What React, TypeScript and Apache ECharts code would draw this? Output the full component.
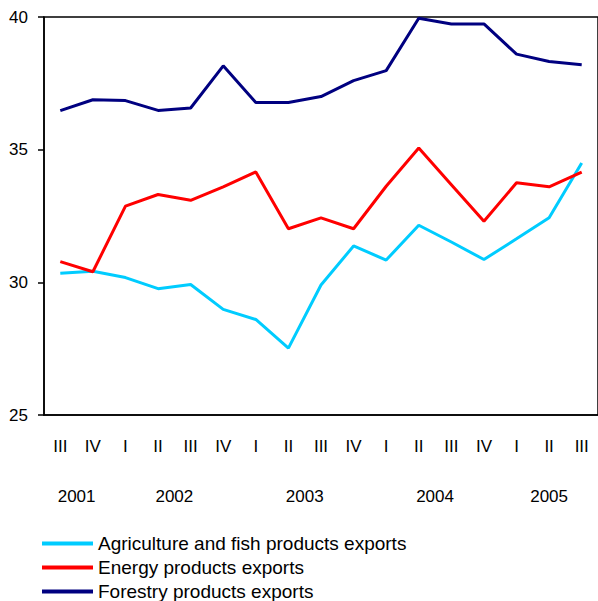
import React, { useEffect, useRef } from "react";
import * as echarts from "echarts";

const quarters = ["III", "IV", "I", "II", "III", "IV", "I", "II", "III", "IV", "I", "II", "III", "IV", "I", "II", "III"];
const yearPositions = [0.5, 3.5, 7.5, 11.5, 15];
const yearLabels = ["2001", "2002", "2003", "2004", "2005"];
const seriesNames = [
  "Agriculture and fish products exports",
  "Energy products exports",
  "Forestry products exports",
];
const agriculture = [30.34, 30.42, 30.18, 29.76, 29.92, 28.98, 28.6, 27.52, 29.9, 31.37, 30.84, 32.15, 31.52, 30.86, 31.64, 32.43, 34.5];
const energy = [30.78, 30.4, 32.87, 33.31, 33.09, 33.6, 34.16, 32.02, 32.43, 32.02, 33.62, 35.06, 33.68, 32.3, 33.75, 33.6, 34.15];
const forestry = [36.47, 36.88, 36.85, 36.48, 36.57, 38.16, 36.78, 36.78, 37.0, 37.6, 37.98, 39.95, 39.74, 39.74, 38.6, 38.32, 38.2];
const colors = ["#00CCFF", "#FF0000", "#000080"];

const FONT = "Liberation Sans, Arial, sans-serif";

export default function App() {
  const ref = useRef<HTMLDivElement>(null);
  useEffect(() => {
    if (!ref.current) return;
    const chart = echarts.init(ref.current, undefined, { renderer: "svg" });
    const data = [agriculture, energy, forestry];
    chart.setOption({
      animation: false,
      backgroundColor: "#ffffff",
      grid: {
        left: 44,
        top: 17,
        right: -3,
        bottom: 186,
        show: true,
        borderColor: "#000000",
        borderWidth: 1.5,
        backgroundColor: "transparent",
      },
      legend: {
        orient: "vertical",
        left: 37,
        top: 529,
        height: 120,
        itemWidth: 51,
        itemHeight: 4,
        itemGap: 5,
        icon: "rect",
        textStyle: { fontFamily: FONT, fontSize: 19, color: "#000", lineHeight: 18 },
        data: seriesNames,
      },
      xAxis: [
        {
          type: "category",
          data: quarters,
          boundaryGap: true,
          axisLine: { show: true, lineStyle: { color: "#000", width: 1.5 } },
          axisTick: { show: false },
          splitLine: { show: false },
          axisLabel: {
            interval: 0,
            margin: 23,
            fontFamily: FONT,
            fontSize: 17,
            color: "#000",
          },
        },
        {
          type: "value",
          position: "bottom",
          min: -0.5,
          max: 16.5,
          axisLine: { show: false },
          axisTick: { show: false },
          splitLine: { show: false },
          axisLabel: {
            customValues: yearPositions,
            margin: 73,
            fontFamily: FONT,
            fontSize: 17,
            color: "#000",
            formatter: (v: number) => {
              const idx = yearPositions.indexOf(v);
              return idx >= 0 ? yearLabels[idx] : "";
            },
          },
        },
      ],
      yAxis: {
        type: "value",
        min: 25,
        max: 40,
        interval: 5,
        axisLine: { show: true, onZero: false, lineStyle: { color: "#000", width: 1.5 } },
        axisTick: { show: true, length: 6, lineStyle: { color: "#000", width: 1.5 } },
        splitLine: { show: false },
        axisLabel: {
          margin: 16,
          fontFamily: FONT,
          fontSize: 17,
          color: "#000",
        },
      },
      series: seriesNames.map((name, i) => ({
        name,
        type: "line",
        xAxisIndex: 0,
        data: data[i],
        showSymbol: false,
        symbol: "none",
        color: colors[i],
        lineStyle: { color: colors[i], width: 3 },
      })),
    });
    return () => chart.dispose();
  }, []);
  return (
    <div
      ref={ref}
      style={{ position: "fixed", left: 0, top: 0, width: 598, height: 601 }}
    />
  );
}
